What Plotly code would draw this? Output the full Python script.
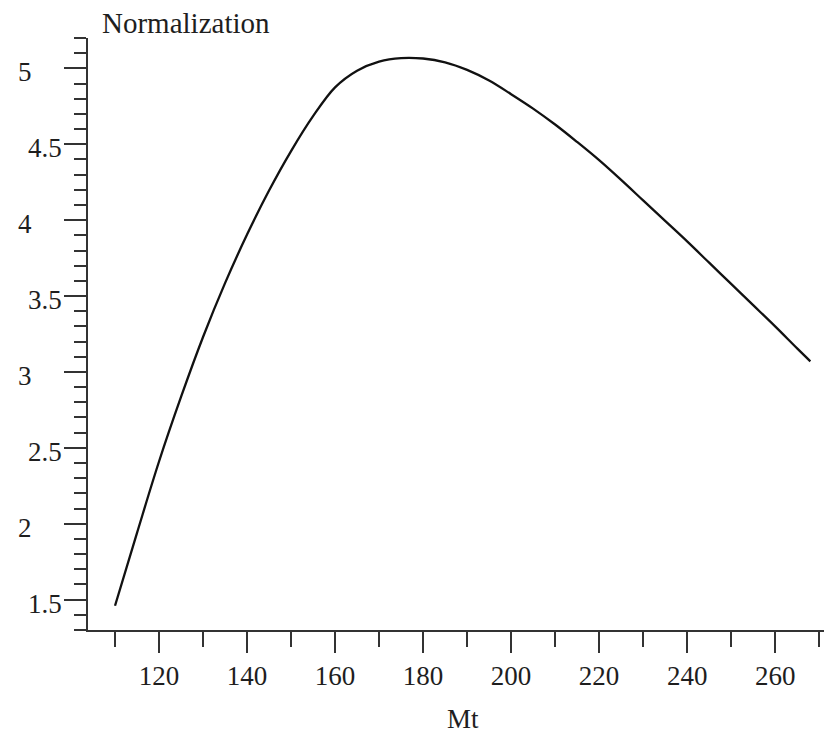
import plotly.graph_objects as go

# Normalization as a function of the top mass Mt
mt = [110, 115, 120, 125, 130, 135, 140, 145, 150, 155, 160, 165, 170, 175,
      180, 185, 190, 195, 200, 205, 210, 215, 220, 225, 230, 235, 240, 245,
      250, 255, 260, 265, 268]
normalization = [1.46, 1.94, 2.41, 2.835, 3.23, 3.585, 3.905, 4.195, 4.455,
                 4.685, 4.875, 4.985, 5.045, 5.068, 5.065, 5.04, 4.99, 4.92,
                 4.83, 4.735, 4.63, 4.515, 4.395, 4.265, 4.13, 3.995, 3.86,
                 3.72, 3.58, 3.44, 3.30, 3.155, 3.07]

x_range = [103.86, 271.1]
y_range = [1.3, 5.2]
y_tick_vals = [1.5, 2, 2.5, 3, 3.5, 4, 4.5, 5]
y_tick_text = ["1.5", "2", "2.5", "3", "3.5", "4", "4.5", "5"]

FONT = "Liberation Serif"
TEXT_COLOR = "#1e1e1e"
AXIS_COLOR = "#333333"
FS = 27

fig = go.Figure()
fig.add_trace(go.Scatter(
    x=mt, y=normalization, mode="lines",
    line=dict(color="#111111", width=2.3, shape="spline", smoothing=1.0),
    hoverinfo="skip",
))

fig.update_layout(
    width=824, height=734,
    margin=dict(l=88, r=0, t=38, b=104, pad=0),
    paper_bgcolor="white", plot_bgcolor="white",
    showlegend=False,
    font=dict(family=FONT, size=FS, color=TEXT_COLOR),
)

fig.update_xaxes(
    range=x_range, showgrid=False, zeroline=False,
    showline=True, linecolor=AXIS_COLOR, linewidth=2,
    ticks="outside", ticklen=21, tickwidth=2, tickcolor=AXIS_COLOR,
    tick0=120, dtick=20,
    tickfont=dict(family=FONT, size=FS, color=TEXT_COLOR),
    ticklabelstandoff=0,
    minor=dict(tick0=110, dtick=10, ticks="outside", ticklen=15,
               tickwidth=2, tickcolor=AXIS_COLOR, showgrid=False),
)

fig.update_yaxes(
    range=y_range, showgrid=False, zeroline=False,
    showline=True, linecolor=AXIS_COLOR, linewidth=2,
    ticks="outside", ticklen=22, tickwidth=2, tickcolor=AXIS_COLOR,
    tick0=1.5, dtick=0.5, showticklabels=False,
    minor=dict(tick0=1.3, dtick=0.1, ticks="outside", ticklen=12,
               tickwidth=2, tickcolor=AXIS_COLOR, showgrid=False),
)

# y tick labels: integers and half values sit at different offsets
for val, txt in zip(y_tick_vals, y_tick_text):
    shift = -43.5 if "." in txt else -63.5
    fig.add_annotation(
        x=0, xref="paper", y=val, yref="y",
        text=txt, showarrow=False,
        xanchor="center", yanchor="middle",
        xshift=shift, yshift=-4,
        font=dict(family=FONT, size=FS, color=TEXT_COLOR),
    )

# axis titles
fig.add_annotation(
    x=0, xref="paper", y=1, yref="paper",
    text="Normalization", showarrow=False,
    xanchor="left", yanchor="middle", xshift=12, yshift=15,
    font=dict(family=FONT, size=29, color=TEXT_COLOR),
)
fig.add_annotation(
    x=(mt[0] + mt[-1]) / 2, xref="x", y=0, yref="paper",
    text="Mt", showarrow=False, borderpad=0,
    xanchor="center", yanchor="middle", yshift=-89,
    font=dict(family=FONT, size=FS, color=TEXT_COLOR),
)

fig.write_html("out.html")
